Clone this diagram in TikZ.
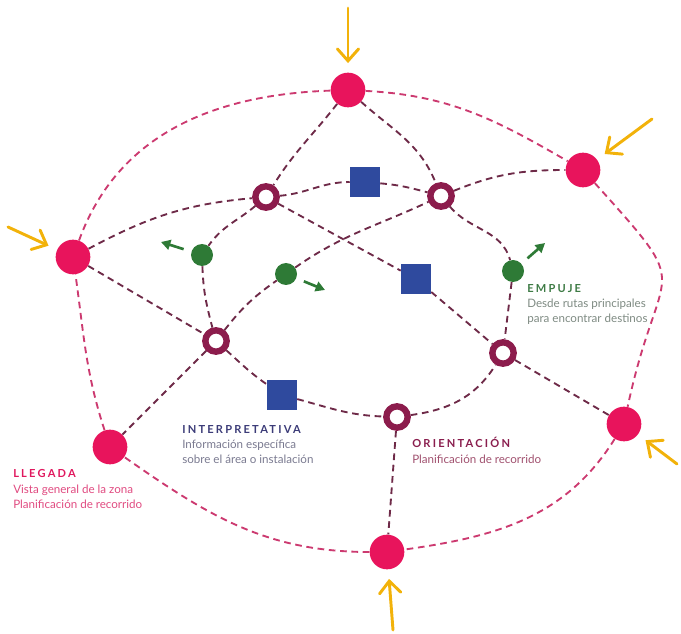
\documentclass[tikz,border=0pt]{standalone}
\usepackage{fontspec}
\setmainfont{Lato}
\usetikzlibrary{arrows.meta}
\definecolor{pinkc}{HTML}{E8145C}
\definecolor{ringc}{HTML}{8C1C4C}
\definecolor{bluec}{HTML}{2F4A9E}
\definecolor{greenc}{HTML}{2E7A36}
\definecolor{yellowc}{HTML}{F2B20A}
\definecolor{outerc}{HTML}{CC3A70}
\definecolor{innerc}{HTML}{6E2A48}
\definecolor{llegT}{HTML}{E0185E}
\definecolor{llegB}{HTML}{E04A80}
\definecolor{intT}{HTML}{3C3C78}
\definecolor{intB}{HTML}{7A7A90}
\definecolor{empT}{HTML}{3E7B45}
\definecolor{empB}{HTML}{7E8A82}
\definecolor{oriT}{HTML}{8A1E4E}
\definecolor{oriB}{HTML}{A0506E}
\pgfdeclarelayer{bg}
\pgfsetlayers{bg,main}
\begin{document}
\begin{tikzpicture}[x=0.75pt,y=0.75pt,
  pinkdot/.style={circle,fill=pinkc,minimum size=26pt,inner sep=0pt},
  ringdot/.style={circle,draw=ringc,line width=4.8pt,fill=white,minimum size=16pt,inner sep=0pt},
  bluesq/.style={rectangle,fill=bluec,minimum size=22.5pt,inner sep=0pt},
  greendot/.style={circle,fill=greenc,minimum size=16.5pt,inner sep=0pt},
  outerline/.style={draw=outerc,line width=1.4pt,dash pattern=on 5pt off 3.5pt},
  innerline/.style={draw=innerc,line width=1.4pt,dash pattern=on 5pt off 3.5pt},
  yarrow/.style={draw=yellowc,line width=2.2pt,line cap=round,-{Straight Barb[length=9pt,width=16pt,line cap=round]},shorten >=7pt},
  garrow/.style={draw=greenc,line width=2pt,-{Triangle[length=7pt,width=7.5pt]},shorten <=6pt},
  ttl/.style={anchor=base west,inner sep=0pt,font=\fontsize{8.3}{10}\selectfont\bfseries\addfontfeatures{LetterSpace=20}},
  bdy/.style={anchor=base west,inner sep=0pt,font=\fontsize{8.7}{10}\selectfont}
]
\useasboundingbox (0,0) rectangle (681,-634);

% entry points
\node[pinkdot] (p1) at (348,-90) {};
\node[pinkdot] (p2) at (583,-170) {};
\node[pinkdot] (p3) at (73,-257) {};
\node[pinkdot] (p4) at (110,-447) {};
\node[pinkdot] (p5) at (624,-424) {};
\node[pinkdot] (p6) at (387,-552) {};
% orientation rings
\node[ringdot] (r1) at (266,-197) {};
\node[ringdot] (r2) at (441,-196) {};
\node[ringdot] (r3) at (216,-341) {};
\node[ringdot] (r4) at (503,-353) {};
\node[ringdot] (r5) at (397,-417) {};
% interpretive squares
\node[bluesq] (b1) at (365,-182) {};
\node[bluesq] (b2) at (416,-279) {};
\node[bluesq] (b3) at (282,-395) {};
% push dots
\node[greendot] (g1) at (202,-255) {};
\node[greendot] (g2) at (286,-274) {};
\node[greendot] (g3) at (513,-271) {};

\coordinate (g1t) at (161,-242);
\coordinate (g2t) at (325,-290);
\coordinate (g3t) at (545,-243);

\coordinate (y1) at (348,-8);
\coordinate (y2) at (652,-119);
\coordinate (y3) at (8,-227);
\coordinate (y5) at (677,-464);
\coordinate (y6) at (393,-630);

\begin{pgfonlayer}{bg}
% outer loop
\draw[outerline] (p1) to[out=-3,in=150] (p2);
\draw[outerline] (p2) to[out=-48,in=78,looseness=1.75] (p5);
\draw[outerline] (p5) to[out=-122,in=8] (p6);
\draw[outerline] (p6) to[out=180,in=-35] (p4);
\draw[outerline] (p4) to[out=108,in=-82] (p3);
\draw[outerline] (p3) to[out=70,in=182] (p1);
% inner network
\draw[innerline] (p3) to[out=28,in=185] (r1);
\draw[innerline] (r1) to[out=5,in=180] (b1);
\draw[innerline] (b1) to[out=-5,in=165] (r2);
\draw[innerline] (r2) to[out=22,in=180] (p2);
\draw[innerline] (p1) to[out=-128,in=58] (r1);
\draw[innerline] (p1) to[out=-42,in=112] (r2);
\draw[innerline] (r1) to[out=-140,in=55] (g1);
\draw[innerline] (g1) to[out=-88,in=105] (r3);
\draw[innerline] (r3) to[out=52,in=215] (g2);
\draw[innerline] (g2) to[out=35,in=205] (r2);
\draw[innerline] (r1) -- (b2);
\draw[innerline] (b2) -- (r4);
\draw[innerline] (r2) to[out=-50,in=105] (g3);
\draw[innerline] (g3) -- (r4);
\draw[innerline] (r3) to[out=-42,in=145] (b3);
\draw[innerline] (b3) to[out=-15,in=178] (r5);
\draw[innerline] (r5) to[out=8,in=238] (r4);
\draw[innerline] (r4) -- (p5);
\draw[innerline] (p3) -- (r3);
\draw[innerline] (r3) -- (p4);
\draw[innerline] (r5) -- (p6);
\end{pgfonlayer}

% arrows
\draw[garrow] (g1) -- (g1t);
\draw[garrow] (g2) -- (g2t);
\draw[garrow] (g3) -- (g3t);
\draw[yarrow] (y1) -- (p1);
\draw[yarrow] (y2) -- (p2);
\draw[yarrow] (y3) -- (p3);
\draw[yarrow] (y5) -- (p5);
\draw[yarrow] (y6) -- (p6);

% labels
\node[ttl,text=llegT] (tl0) at (13,-477) {LLEGADA};
\node[bdy,text=llegB] (tl1) at (13,-493) {Vista general de la zona};
\node[bdy,text=llegB] (tl2) at (13,-508) {Planificación de recorrido};

\node[ttl,text=intT] (ti0) at (182,-433) {INTERPRETATIVA};
\node[bdy,text=intB] (ti1) at (182,-448) {Información específica};
\node[bdy,text=intB] (ti2) at (182,-463) {sobre el área o instalación};

\node[ttl,text=empT] (te0) at (527,-293) {EMPUJE};
\node[bdy,text=empB] (te1) at (527,-308) {Desde rutas principales};
\node[bdy,text=empB] (te2) at (527,-323) {para encontrar destinos};

\node[ttl,text=oriT] (to0) at (412,-447) {ORIENTACIÓN};
\node[bdy,text=oriB] (to1) at (412,-463) {Planificación de recorrido};
\end{tikzpicture}
\end{document}
